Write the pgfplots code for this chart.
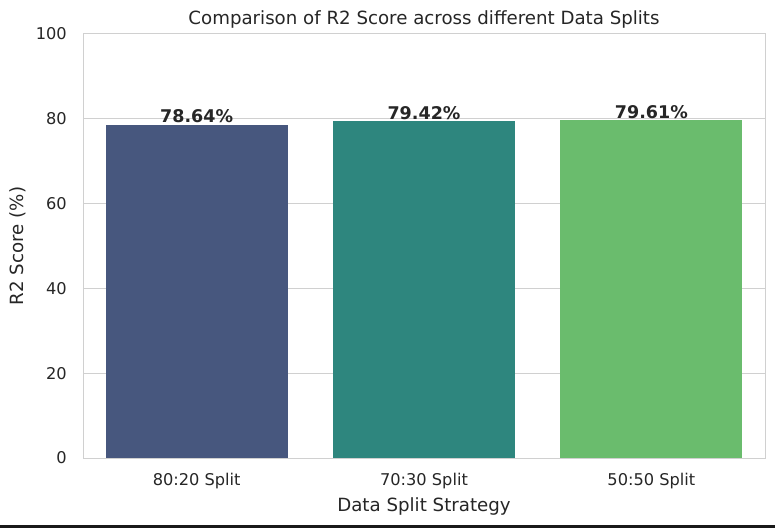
\documentclass[border=0pt]{standalone}
\usepackage{fontspec}
\setmainfont{DejaVu Sans}
\usepackage{pgfplots}
\pgfplotsset{compat=1.18}
\definecolor{cA}{HTML}{47577E}
\definecolor{cB}{HTML}{2E867E}
\definecolor{cC}{HTML}{6ABC6D}
\definecolor{txt}{HTML}{262626}
\definecolor{gridc}{HTML}{D0D0D0}
\begin{document}
\begin{tikzpicture}[x=1pt,y=1pt]
\path[use as bounding box] (0,0) rectangle (775,528);
\fill[white] (0,0) rectangle (775,528);
\fill[black!90] (0,0) rectangle (775,3);
\begin{axis}[
  at={(83pt,70pt)}, anchor=south west,
  scale only axis, width=682pt, height=424pt,
  xmin=-0.5, xmax=2.5, ymin=0, ymax=100,
  xtick={0,1,2}, xticklabels={80:20 Split,70:30 Split,50:50 Split},
  ytick={0,20,40,60,80,100},
  ymajorgrids, xmajorgrids=false,
  grid style={line width=1pt, color=gridc},
  axis line style={line width=1pt, color=gridc},
  major tick length=0pt, tick style={draw=none},
  /pgf/number format/assume math mode=true,
  tick label style={font=\fontsize{16.2}{19}\selectfont, text=txt},
  xticklabel style={anchor=center, yshift=-23pt},
  yticklabel style={anchor=east, inner sep=0pt, xshift=-16pt},
  title={Comparison of R2 Score across different Data Splits},
  title style={font=\fontsize{18.2}{21}\selectfont, text=txt, anchor=center, at={(axis description cs:0.5,1.0212)}},
  xlabel={Data Split Strategy},
  xlabel style={font=\fontsize{18.2}{21}\selectfont, text=txt, anchor=center, at={(axis description cs:0.5,-0.1132)}},
  ylabel={R2 Score (\%)},
  ylabel style={font=\fontsize{18.2}{21}\selectfont, text=txt, anchor=center, at={(axis description cs:-0.0953,0.5)}},
  ybar, bar width=0.8, bar shift=0pt,
  point meta=y,
  nodes near coords={\pgfmathprintnumber[fixed,precision=2,fixed zerofill]{\pgfplotspointmeta}\%},
  nodes near coords style={font=\bfseries\fontsize{17.5}{20}\selectfont, text=txt, anchor=south, inner sep=1.5pt, /pgf/number format/assume math mode=true},
]
\addplot[fill=cA, draw=none] coordinates {(0,78.64)};
\addplot[fill=cB, draw=none] coordinates {(1,79.42)};
\addplot[fill=cC, draw=none] coordinates {(2,79.61)};
\end{axis}
\end{tikzpicture}
\end{document}
